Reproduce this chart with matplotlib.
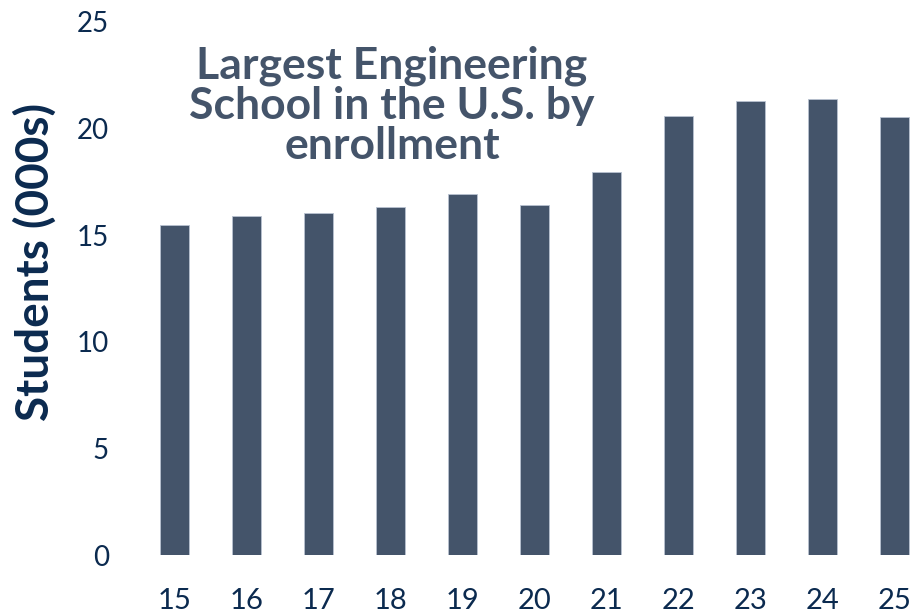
import matplotlib.pyplot as plt

years = ['15', '16', '17', '18', '19', '20', '21', '22', '23', '24', '25']
students = [15.5, 15.9, 16.05, 16.3, 16.95, 16.4, 17.95, 20.6, 21.3, 21.4, 20.55]
yticks = [0, 5, 10, 15, 20, 25]

bar_color = '#44546A'
navy = '#0B2A4F'

plt.rcParams['font.family'] = ['Lato', 'DejaVu Sans']

fig = plt.figure(figsize=(9.14, 6.14), dpi=100)
ax = fig.add_axes([120 / 914, 59 / 614, 794 / 914, 533 / 614])

x = list(range(len(years)))
ax.bar(x, students, width=0.4, color=bar_color, edgecolor='#B8C2D0', linewidth=0.6)

ax.set_xlim(-0.757, 10.27)
ax.set_ylim(0, 25)
ax.set_xticks(x)
ax.set_xticklabels(years, fontsize=21, color=navy)
ax.set_yticks(yticks)
ax.set_yticklabels([str(t) for t in yticks], fontsize=20, color=navy)
ax.tick_params(length=0)
ax.tick_params(axis='x', pad=24)
ax.tick_params(axis='y', pad=8)
for s in ax.spines.values():
    s.set_visible(False)

fig.text(35 / 914, 1 - 262 / 614, 'Students (000s)', rotation=90, ha='center', va='center',
         fontsize=33, fontweight='bold', color=navy)

fig.text(392 / 914, 1 - 106 / 614, 'Largest Engineering\nSchool in the U.S. by\nenrollment',
         ha='center', va='center', fontsize=32, fontweight='bold', color=bar_color,
         linespacing=1.0)

fig.savefig('out.png', dpi=100)
